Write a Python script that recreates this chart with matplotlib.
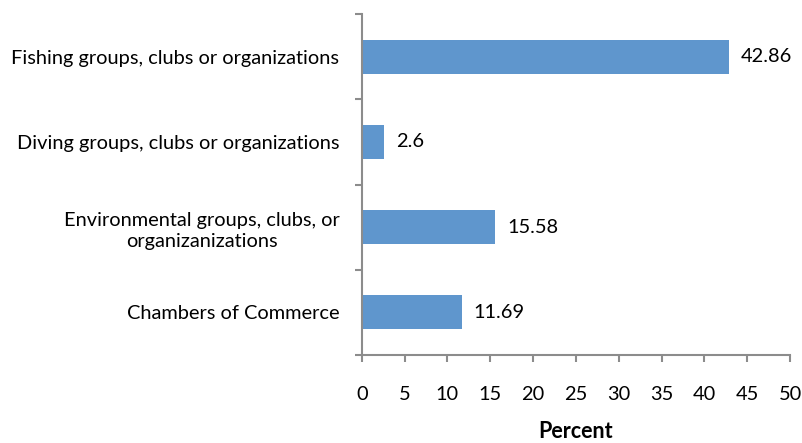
import matplotlib
matplotlib.use("Agg")
import matplotlib.pyplot as plt
import numpy as np

plt.rcParams['font.family'] = ['Lato', 'DejaVu Sans']

categories = [
    "Fishing groups, clubs or organizations",
    "Diving groups, clubs or organizations",
    "Environmental groups, clubs, or\norganizanizations",
    "Chambers of Commerce",
]
values = [42.86, 2.6, 15.58, 11.69]
value_labels = ["42.86", "2.6", "15.58", "11.69"]
xticks = np.arange(0, 51, 5)

bar_color = '#5f96cd'
axis_color = '#8c8c8c'
fs = 14.4

fig = plt.figure(figsize=(8.02, 4.43), dpi=100)
ax = fig.add_axes([361.7 / 802, 1 - 355 / 443, (790 - 361.7) / 802, (355 - 14) / 443])

y = np.arange(len(categories))
ax.barh(y, values, height=0.4, color=bar_color, zorder=2)
for yi, v, lab in zip(y, values, value_labels):
    ax.text(v + 1.4, yi, lab, va='center', ha='left', fontsize=fs, color='black')

ax.set_ylim(len(categories) - 0.5, -0.5)
ax.set_xlim(0, 50)

ax.set_yticks(y)
ax.set_yticklabels(categories, fontsize=fs, multialignment='center', linespacing=1.3)
ax.tick_params(axis='y', which='major', length=0, pad=16)
ax.set_yticks(np.arange(-0.5, len(categories), 1), minor=True)
ax.tick_params(axis='y', which='minor', length=5, width=1.5, color=axis_color)

ax.set_xticks(xticks)
ax.set_xticklabels([str(t) for t in xticks], fontsize=fs)
ax.tick_params(axis='x', length=5, width=1.5, color=axis_color, pad=17)

for s in ['top', 'right']:
    ax.spines[s].set_visible(False)
for s in ['left', 'bottom']:
    ax.spines[s].set_color(axis_color)
    ax.spines[s].set_linewidth(1.5)

ax.set_xlabel('Percent', fontsize=15.5, fontweight='bold', labelpad=13)

fig.savefig('out.png', dpi=100)
